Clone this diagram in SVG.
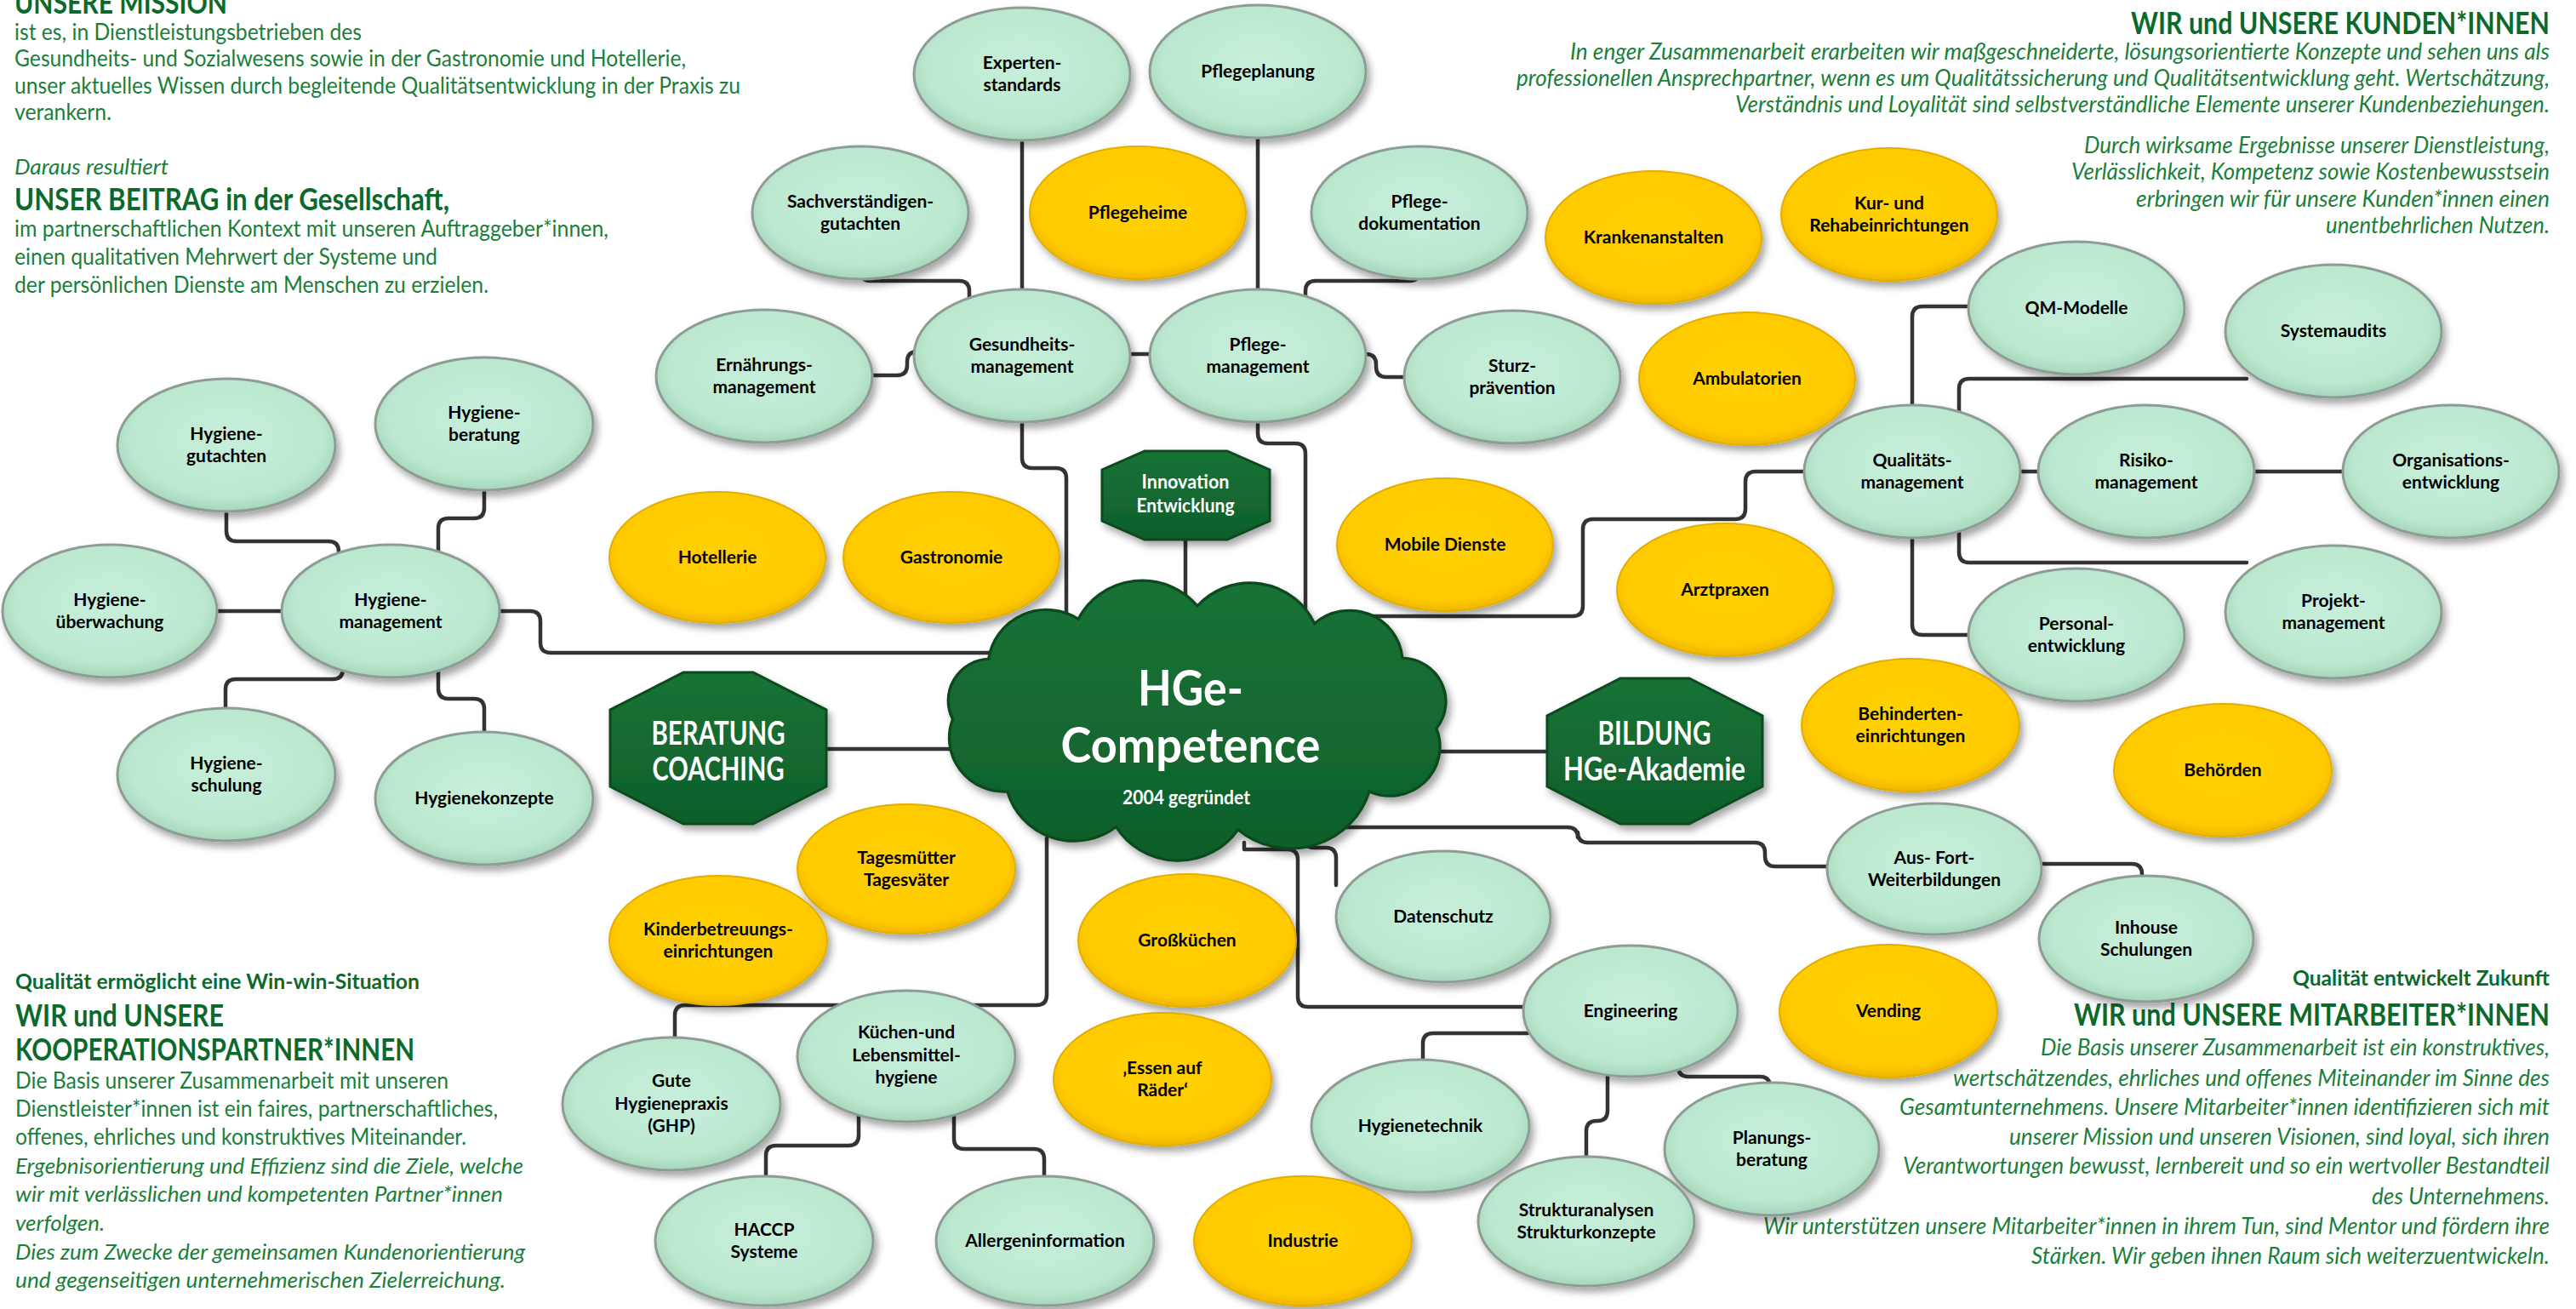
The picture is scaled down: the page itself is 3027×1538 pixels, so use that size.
<svg xmlns="http://www.w3.org/2000/svg" width="3027" height="1538" viewBox="0 0 3027 1538">
<defs>
<filter id="sh" x="-20%" y="-20%" width="150%" height="150%"><feDropShadow dx="4" dy="6" stdDeviation="4" flood-color="#000" flood-opacity="0.35"/></filter>
<radialGradient id="gG" cx="50%" cy="45%" r="55%"><stop offset="0" stop-color="#c7efdb"/><stop offset="0.8" stop-color="#bbe8cf"/><stop offset="1" stop-color="#a6d6ba"/></radialGradient>
<radialGradient id="gY" cx="50%" cy="45%" r="55%"><stop offset="0" stop-color="#ffd100"/><stop offset="0.85" stop-color="#ffcb00"/><stop offset="1" stop-color="#efb600"/></radialGradient>
<linearGradient id="gD" x1="0" y1="0" x2="0" y2="1"><stop offset="0" stop-color="#177336"/><stop offset="1" stop-color="#0f5f2b"/></linearGradient>
<style>
.g ellipse{fill:url(#gG);stroke:#8d9c94;stroke-width:3;filter:url(#sh)}
.y ellipse{fill:url(#gY);stroke:#e2ae00;stroke-width:2;filter:url(#sh)}
.d polygon,.d path{fill:url(#gD);stroke:#0a4a1f;stroke-width:3;filter:url(#sh)}
.node text{font-family:Lato,"Liberation Sans",sans-serif;font-weight:bold;font-size:21px;fill:#000;text-anchor:middle}
.d text{fill:#fff}
#connectors path{fill:none;stroke:#333;stroke-width:4.5;stroke-linecap:round;stroke-linejoin:round}
.t{font-family:Lato,"Liberation Sans",sans-serif;font-size:26px;fill:#1a7f3a}
.i{font-style:italic}
.tr{font-size:27px}
.h{font-weight:bold;font-size:36px;fill:#0b6a2b}
.s{font-weight:bold;font-size:25px;fill:#0b6a2b}
.r{text-anchor:end}
</style>
</defs>
<rect width="3027" height="1538" fill="#fff"/>

<g id="texts">
<text class="t h" x="17" y="16" textLength="250" lengthAdjust="spacingAndGlyphs">UNSERE MISSION</text>
<text class="t" x="17" y="47" textLength="408" lengthAdjust="spacingAndGlyphs">ist es, in Dienstleistungsbetrieben des</text>
<text class="t" x="17" y="78" textLength="789" lengthAdjust="spacingAndGlyphs">Gesundheits- und Sozialwesens sowie in der Gastronomie und Hotellerie,</text>
<text class="t" x="17" y="110" textLength="853" lengthAdjust="spacingAndGlyphs">unser aktuelles Wissen durch begleitende Qualitätsentwicklung in der Praxis zu</text>
<text class="t" x="17" y="141" textLength="114" lengthAdjust="spacingAndGlyphs">verankern.</text>
<text class="t i" x="17" y="205" textLength="181" lengthAdjust="spacingAndGlyphs">Daraus resultiert</text>
<text class="t h" x="17" y="247" textLength="511" lengthAdjust="spacingAndGlyphs">UNSER BEITRAG in der Gesellschaft,</text>
<text class="t" x="17" y="278" textLength="698" lengthAdjust="spacingAndGlyphs">im partnerschaftlichen Kontext mit unseren Auftraggeber*innen,</text>
<text class="t" x="17" y="311" textLength="497" lengthAdjust="spacingAndGlyphs">einen qualitativen Mehrwert der Systeme und</text>
<text class="t" x="17" y="344" textLength="557" lengthAdjust="spacingAndGlyphs">der persönlichen Dienste am Menschen zu erzielen.</text>

<text class="t h r" x="2996" y="40" textLength="492" lengthAdjust="spacingAndGlyphs">WIR und UNSERE KUNDEN*INNEN</text>
<text class="t tr i r" x="2996" y="70" textLength="1151" lengthAdjust="spacingAndGlyphs">In enger Zusammenarbeit erarbeiten wir maßgeschneiderte, lösungsorientierte Konzepte und sehen uns als</text>
<text class="t tr i r" x="2996" y="101" textLength="1214" lengthAdjust="spacingAndGlyphs">professionellen Ansprechpartner, wenn es um Qualitätssicherung und Qualitätsentwicklung geht. Wertschätzung,</text>
<text class="t tr i r" x="2996" y="132" textLength="957" lengthAdjust="spacingAndGlyphs">Verständnis und Loyalität sind selbstverständliche Elemente unserer Kundenbeziehungen.</text>
<text class="t tr i r" x="2996" y="180" textLength="547" lengthAdjust="spacingAndGlyphs">Durch wirksame Ergebnisse unserer Dienstleistung,</text>
<text class="t tr i r" x="2996" y="211" textLength="562" lengthAdjust="spacingAndGlyphs">Verlässlichkeit, Kompetenz sowie Kostenbewusstsein</text>
<text class="t tr i r" x="2996" y="243" textLength="486" lengthAdjust="spacingAndGlyphs">erbringen wir für unsere Kunden*innen einen</text>
<text class="t tr i r" x="2996" y="274" textLength="263" lengthAdjust="spacingAndGlyphs">unentbehrlichen Nutzen.</text>

<text class="t s" x="18" y="1162" textLength="475" lengthAdjust="spacingAndGlyphs">Qualität ermöglicht eine Win-win-Situation</text>
<text class="t h" x="18" y="1206" textLength="245" lengthAdjust="spacingAndGlyphs">WIR und UNSERE</text>
<text class="t h" x="18" y="1246" textLength="469" lengthAdjust="spacingAndGlyphs">KOOPERATIONSPARTNER*INNEN</text>
<text class="t" x="18" y="1279" textLength="509" lengthAdjust="spacingAndGlyphs">Die Basis unserer Zusammenarbeit mit unseren</text>
<text class="t" x="18" y="1312" textLength="567" lengthAdjust="spacingAndGlyphs">Dienstleister*innen ist ein faires, partnerschaftliches,</text>
<text class="t" x="18" y="1345" textLength="530" lengthAdjust="spacingAndGlyphs">offenes, ehrliches und konstruktives Miteinander.</text>
<text class="t i" x="18" y="1379" textLength="597" lengthAdjust="spacingAndGlyphs">Ergebnisorientierung und Effizienz sind die Ziele, welche</text>
<text class="t i" x="18" y="1412" textLength="573" lengthAdjust="spacingAndGlyphs">wir mit verlässlichen und kompetenten Partner*innen</text>
<text class="t i" x="18" y="1446" textLength="105" lengthAdjust="spacingAndGlyphs">verfolgen.</text>
<text class="t i" x="18" y="1480" textLength="599" lengthAdjust="spacingAndGlyphs">Dies zum Zwecke der gemeinsamen Kundenorientierung</text>
<text class="t i" x="18" y="1513" textLength="576" lengthAdjust="spacingAndGlyphs">und gegenseitigen unternehmerischen Zielerreichung.</text>

<text class="t s r" x="2996" y="1158" textLength="302" lengthAdjust="spacingAndGlyphs">Qualität entwickelt Zukunft</text>
<text class="t h r" x="2996" y="1205" textLength="559" lengthAdjust="spacingAndGlyphs">WIR und UNSERE MITARBEITER*INNEN</text>
<text class="t tr i r" x="2996" y="1240" textLength="598" lengthAdjust="spacingAndGlyphs">Die Basis unserer Zusammenarbeit ist ein konstruktives,</text>
<text class="t tr i r" x="2996" y="1276" textLength="701" lengthAdjust="spacingAndGlyphs">wertschätzendes, ehrliches und offenes Miteinander im Sinne des</text>
<text class="t tr i r" x="2996" y="1310" textLength="764" lengthAdjust="spacingAndGlyphs">Gesamtunternehmens. Unsere Mitarbeiter*innen identifizieren sich mit</text>
<text class="t tr i r" x="2996" y="1345" textLength="635" lengthAdjust="spacingAndGlyphs">unserer Mission und unseren Visionen, sind loyal, sich ihren</text>
<text class="t tr i r" x="2996" y="1379" textLength="760" lengthAdjust="spacingAndGlyphs">Verantwortungen bewusst, lernbereit und so ein wertvoller Bestandteil</text>
<text class="t tr i r" x="2996" y="1415" textLength="209" lengthAdjust="spacingAndGlyphs">des Unternehmens.</text>
<text class="t tr i r" x="2996" y="1450" textLength="924" lengthAdjust="spacingAndGlyphs">Wir unterstützen unsere Mitarbeiter*innen in ihrem Tun, sind Mentor und fördern ihre</text>
<text class="t tr i r" x="2996" y="1485" textLength="609" lengthAdjust="spacingAndGlyphs">Stärken. Wir geben ihnen Raum sich weiterzuentwickeln.</text>
</g>

<g id="connectors">
<path d="M1201 150 V350"/>
<path d="M1478 150 V350"/>
<path d="M1011 315 V318 Q1011 330 1023 330 H1127 Q1139 330 1139 342 V360"/>
<path d="M1668 315 V318 Q1668 330 1656 330 H1546 Q1534 330 1534 342 V360"/>
<path d="M1015 441 H1054 Q1066 441 1066 429 V425 Q1066 413 1078 413 H1090"/>
<path d="M1320 416 H1360"/>
<path d="M1595 416 H1605 Q1617 416 1617 428 V431 Q1617 443 1629 443 H1665"/>
<path d="M1201 490 V538 Q1201 550 1213 550 H1241 Q1253 550 1253 562 V740"/>
<path d="M1478 490 V509 Q1478 521 1490 521 H1522 Q1534 521 1534 533 V740"/>
<path d="M1393 630 V740"/>
<path d="M585 718 H623 Q635 718 635 730 V755 Q635 767 647 767 H1200"/>
<path d="M965 880 H1180"/>
<path d="M1620 883 H1825"/>
<path d="M1600 724 H1848 Q1860 724 1860 712 V622 Q1860 610 1872 610 H2039 Q2051 610 2051 598 V566 Q2051 554 2063 554 H2135"/>
<path d="M2247 480 V372 Q2247 360 2259 360 H2330"/>
<path d="M2302 485 V457 Q2302 445 2314 445 H2640"/>
<path d="M2370 554 H2400"/>
<path d="M2645 554 H2760"/>
<path d="M2302 625 V649 Q2302 661 2314 661 H2640"/>
<path d="M2247 628 V734 Q2247 746 2259 746 H2325"/>
<path d="M1560 972 H1842 Q1854 972 1854 984 V978 Q1854 990 1866 990 H2062 Q2074 990 2074 1002 V1006 Q2074 1018 2086 1018 H2155"/>
<path d="M1532 975 V984 Q1532 996 1544 996 H1558 Q1570 996 1570 1008 V1040"/>
<path d="M1462 990 V998 H1513 Q1525 998 1525 1010 V1171 Q1525 1183 1537 1183 H1800"/>
<path d="M1230 985 V1169 Q1230 1181 1218 1181 H805 Q793 1181 793 1193 V1230"/>
<path d="M1009 1305 V1334 Q1009 1346 997 1346 H912 Q900 1346 900 1358 V1395"/>
<path d="M1121 1305 V1338 Q1121 1350 1133 1350 H1215 Q1227 1350 1227 1362 V1395"/>
<path d="M1795 1214 H1684 Q1672 1214 1672 1226 V1255"/>
<path d="M1889 1255 V1305 Q1889 1317 1877 1317 H1876 Q1864 1317 1864 1329 V1370"/>
<path d="M1972 1250 V1253 Q1972 1265 1984 1265 H2068 Q2080 1265 2080 1277 V1290"/>
<path d="M2395 1015 H2505 Q2517 1015 2517 1027 V1050"/>
<path d="M266 595 V624 Q266 636 278 636 H386 Q398 636 398 648 V660"/>
<path d="M569 570 V597 Q569 609 557 609 H527 Q515 609 515 621 V660"/>
<path d="M250 718 H340"/>
<path d="M403 780 V786 Q403 798 391 798 H277 Q265 798 265 810 V845"/>
<path d="M515 780 V809 Q515 821 527 821 H557 Q569 821 569 833 V870"/>
</g>

<g id="n-exp" class="node g"><ellipse cx="1201" cy="87" rx="127" ry="78"/><text><tspan x="1201" y="81">Experten-</tspan><tspan x="1201" y="107">standards</tspan></text></g>
<g id="n-pplan" class="node g"><ellipse cx="1478" cy="84" rx="127" ry="78"/><text x="1478" y="91">Pflegeplanung</text></g>
<g id="n-sach" class="node g"><ellipse cx="1011" cy="250" rx="127" ry="78"/><text><tspan x="1011" y="244">Sachverständigen-</tspan><tspan x="1011" y="270">gutachten</tspan></text></g>
<g id="n-pheim" class="node y"><ellipse cx="1337" cy="250" rx="127" ry="78"/><text x="1337" y="257">Pflegeheime</text></g>
<g id="n-pdok" class="node g"><ellipse cx="1668" cy="250" rx="127" ry="78"/><text><tspan x="1668" y="244">Pflege-</tspan><tspan x="1668" y="270">dokumentation</tspan></text></g>
<g id="n-krank" class="node y"><ellipse cx="1943" cy="279" rx="127" ry="78"/><text x="1943" y="286">Krankenanstalten</text></g>
<g id="n-kur" class="node y"><ellipse cx="2220" cy="252" rx="127" ry="78"/><text><tspan x="2220" y="246">Kur- und</tspan><tspan x="2220" y="272">Rehabeinrichtungen</tspan></text></g>
<g id="n-ern" class="node g"><ellipse cx="898" cy="442" rx="127" ry="78"/><text><tspan x="898" y="436">Ernährungs-</tspan><tspan x="898" y="462">management</tspan></text></g>
<g id="n-ges" class="node g"><ellipse cx="1201" cy="418" rx="127" ry="78"/><text><tspan x="1201" y="412">Gesundheits-</tspan><tspan x="1201" y="438">management</tspan></text></g>
<g id="n-pman" class="node g"><ellipse cx="1478" cy="418" rx="127" ry="78"/><text><tspan x="1478" y="412">Pflege-</tspan><tspan x="1478" y="438">management</tspan></text></g>
<g id="n-sturz" class="node g"><ellipse cx="1777" cy="443" rx="127" ry="78"/><text><tspan x="1777" y="437">Sturz-</tspan><tspan x="1777" y="463">prävention</tspan></text></g>
<g id="n-amb" class="node y"><ellipse cx="2053" cy="445" rx="127" ry="78"/><text x="2053" y="452">Ambulatorien</text></g>
<g id="n-qm" class="node g"><ellipse cx="2440" cy="362" rx="127" ry="78"/><text x="2440" y="369">QM-Modelle</text></g>
<g id="n-sys" class="node g"><ellipse cx="2742" cy="389" rx="127" ry="78"/><text x="2742" y="396">Systemaudits</text></g>
<g id="n-qual" class="node g"><ellipse cx="2247" cy="554" rx="127" ry="78"/><text><tspan x="2247" y="548">Qualitäts-</tspan><tspan x="2247" y="574">management</tspan></text></g>
<g id="n-risk" class="node g"><ellipse cx="2522" cy="554" rx="127" ry="78"/><text><tspan x="2522" y="548">Risiko-</tspan><tspan x="2522" y="574">management</tspan></text></g>
<g id="n-org" class="node g"><ellipse cx="2880" cy="554" rx="127" ry="78"/><text><tspan x="2880" y="548">Organisations-</tspan><tspan x="2880" y="574">entwicklung</tspan></text></g>
<g id="n-proj" class="node g"><ellipse cx="2742" cy="719" rx="127" ry="78"/><text><tspan x="2742" y="713">Projekt-</tspan><tspan x="2742" y="739">management</tspan></text></g>
<g id="n-pers" class="node g"><ellipse cx="2440" cy="746" rx="127" ry="78"/><text><tspan x="2440" y="740">Personal-</tspan><tspan x="2440" y="766">entwicklung</tspan></text></g>
<g id="n-arzt" class="node y"><ellipse cx="2027" cy="693" rx="127" ry="78"/><text x="2027" y="700">Arztpraxen</text></g>
<g id="n-mob" class="node y"><ellipse cx="1698" cy="640" rx="127" ry="78"/><text x="1698" y="647">Mobile Dienste</text></g>
<g id="n-hot" class="node y"><ellipse cx="843" cy="655" rx="127" ry="77"/><text x="843" y="662">Hotellerie</text></g>
<g id="n-gas" class="node y"><ellipse cx="1118" cy="655" rx="127" ry="77"/><text x="1118" y="662">Gastronomie</text></g>

<g id="n-hgut" class="node g"><ellipse cx="266" cy="523" rx="128" ry="78"/><text><tspan x="266" y="517">Hygiene-</tspan><tspan x="266" y="543">gutachten</tspan></text></g>
<g id="n-hber" class="node g"><ellipse cx="569" cy="498" rx="128" ry="78"/><text><tspan x="569" y="492">Hygiene-</tspan><tspan x="569" y="518">beratung</tspan></text></g>
<g id="n-hueb" class="node g"><ellipse cx="129" cy="718" rx="126" ry="78"/><text><tspan x="129" y="712">Hygiene-</tspan><tspan x="129" y="738">überwachung</tspan></text></g>
<g id="n-hman" class="node g"><ellipse cx="459" cy="718" rx="128" ry="78"/><text><tspan x="459" y="712">Hygiene-</tspan><tspan x="459" y="738">management</tspan></text></g>
<g id="n-hsch" class="node g"><ellipse cx="266" cy="910" rx="128" ry="78"/><text><tspan x="266" y="904">Hygiene-</tspan><tspan x="266" y="930">schulung</tspan></text></g>
<g id="n-hkon" class="node g"><ellipse cx="569" cy="938" rx="128" ry="78"/><text x="569" y="945">Hygienekonzepte</text></g>

<g id="n-beratung" class="node d"><polygon points="803,790 885,790 971,834 971,924 885,968 803,968 717,924 717,834"/><text style="font-size:38px"><tspan x="844" y="875" textLength="157" lengthAdjust="spacingAndGlyphs">BERATUNG</tspan><tspan x="844" y="917" textLength="155" lengthAdjust="spacingAndGlyphs">COACHING</tspan></text></g>
<g id="n-bildung" class="node d"><polygon points="1904,797 1985,797 2071,841 2071,924 1985,968 1904,968 1818,924 1818,841"/><text style="font-size:38px"><tspan x="1944" y="875" textLength="133" lengthAdjust="spacingAndGlyphs">BILDUNG</tspan><tspan x="1944" y="917" textLength="214" lengthAdjust="spacingAndGlyphs">HGe-Akademie</tspan></text></g>
<g id="n-innov" class="node d"><polygon points="1345,530 1442,530 1492,552 1492,612 1442,634 1345,634 1295,612 1295,552"/><text style="font-size:22px"><tspan x="1393" y="574" textLength="103" lengthAdjust="spacingAndGlyphs">Innovation</tspan><tspan x="1393" y="602" textLength="115" lengthAdjust="spacingAndGlyphs">Entwicklung</tspan></text></g>
<g id="n-hge" class="node d"><path transform="translate(1397,845) scale(1.11,1.09)" d="M-250 0 A45 45 0 0 1 -212 -65 A62 62 0 0 1 -117 -108 A76 76 0 0 1 9 -122 A75 75 0 0 1 133 -103 A56 56 0 0 1 226 -66 A47 47 0 0 1 262 10 A53 53 0 0 1 191 78 A87 87 0 0 1 52 119 A77 77 0 0 1 -77 116 A73 73 0 0 1 -192 78 A58 58 0 0 1 -250 0 Z"/><text style="font-size:58px"><tspan x="1399" y="829" textLength="124" lengthAdjust="spacingAndGlyphs">HGe-</tspan><tspan x="1399" y="896" textLength="305" lengthAdjust="spacingAndGlyphs">Competence</tspan></text><text x="1394" y="945" style="font-size:23px" textLength="150" lengthAdjust="spacingAndGlyphs">2004 gegründet</text></g>

<g id="n-beh" class="node y"><ellipse cx="2245" cy="852" rx="128" ry="78"/><text><tspan x="2245" y="846">Behinderten-</tspan><tspan x="2245" y="872">einrichtungen</tspan></text></g>
<g id="n-behoe" class="node y"><ellipse cx="2612" cy="905" rx="128" ry="78"/><text x="2612" y="912">Behörden</text></g>
<g id="n-tag" class="node y"><ellipse cx="1065" cy="1021" rx="128" ry="76"/><text><tspan x="1065" y="1015">Tagesmütter</tspan><tspan x="1065" y="1041">Tagesväter</tspan></text></g>
<g id="n-kind" class="node y"><ellipse cx="844" cy="1105" rx="128" ry="76"/><text><tspan x="844" y="1099">Kinderbetreuungs-</tspan><tspan x="844" y="1125">einrichtungen</tspan></text></g>
<g id="n-gross" class="node y"><ellipse cx="1395" cy="1105" rx="128" ry="78"/><text x="1395" y="1112">Großküchen</text></g>
<g id="n-dat" class="node g"><ellipse cx="1696" cy="1077" rx="126" ry="77"/><text x="1696" y="1084">Datenschutz</text></g>
<g id="n-aus" class="node g"><ellipse cx="2273" cy="1021" rx="126" ry="77"/><text><tspan x="2273" y="1015">Aus- Fort-</tspan><tspan x="2273" y="1041">Weiterbildungen</tspan></text></g>
<g id="n-inh" class="node g"><ellipse cx="2522" cy="1103" rx="126" ry="74"/><text><tspan x="2522" y="1097">Inhouse</tspan><tspan x="2522" y="1123">Schulungen</tspan></text></g>
<g id="n-eng" class="node g"><ellipse cx="1916" cy="1188" rx="126" ry="77"/><text x="1916" y="1195">Engineering</text></g>
<g id="n-vend" class="node y"><ellipse cx="2219" cy="1188" rx="128" ry="78"/><text x="2219" y="1195">Vending</text></g>
<g id="n-kue" class="node g"><ellipse cx="1065" cy="1241" rx="128" ry="77"/><text><tspan x="1065" y="1220">Küchen-und</tspan><tspan x="1065" y="1247">Lebensmittel-</tspan><tspan x="1065" y="1273">hygiene</tspan></text></g>
<g id="n-gute" class="node g"><ellipse cx="789" cy="1297" rx="128" ry="78"/><text><tspan x="789" y="1277">Gute</tspan><tspan x="789" y="1304">Hygienepraxis</tspan><tspan x="789" y="1330">(GHP)</tspan></text></g>
<g id="n-essen" class="node y"><ellipse cx="1366" cy="1268" rx="128" ry="78"/><text><tspan x="1366" y="1262">‚Essen auf</tspan><tspan x="1366" y="1288">Räder‘</tspan></text></g>
<g id="n-htech" class="node g"><ellipse cx="1669" cy="1323" rx="128" ry="78"/><text x="1669" y="1330">Hygienetechnik</text></g>
<g id="n-plan" class="node g"><ellipse cx="2082" cy="1350" rx="126" ry="78"/><text><tspan x="2082" y="1344">Planungs-</tspan><tspan x="2082" y="1370">beratung</tspan></text></g>
<g id="n-haccp" class="node g"><ellipse cx="898" cy="1458" rx="128" ry="76"/><text><tspan x="898" y="1452">HACCP</tspan><tspan x="898" y="1478">Systeme</tspan></text></g>
<g id="n-aller" class="node g"><ellipse cx="1228" cy="1458" rx="128" ry="76"/><text x="1228" y="1465">Allergeninformation</text></g>
<g id="n-ind" class="node y"><ellipse cx="1531" cy="1458" rx="128" ry="76"/><text x="1531" y="1465">Industrie</text></g>
<g id="n-struk" class="node g"><ellipse cx="1864" cy="1435" rx="127" ry="76"/><text><tspan x="1864" y="1429">Strukturanalysen</tspan><tspan x="1864" y="1455">Strukturkonzepte</tspan></text></g>
</svg>
